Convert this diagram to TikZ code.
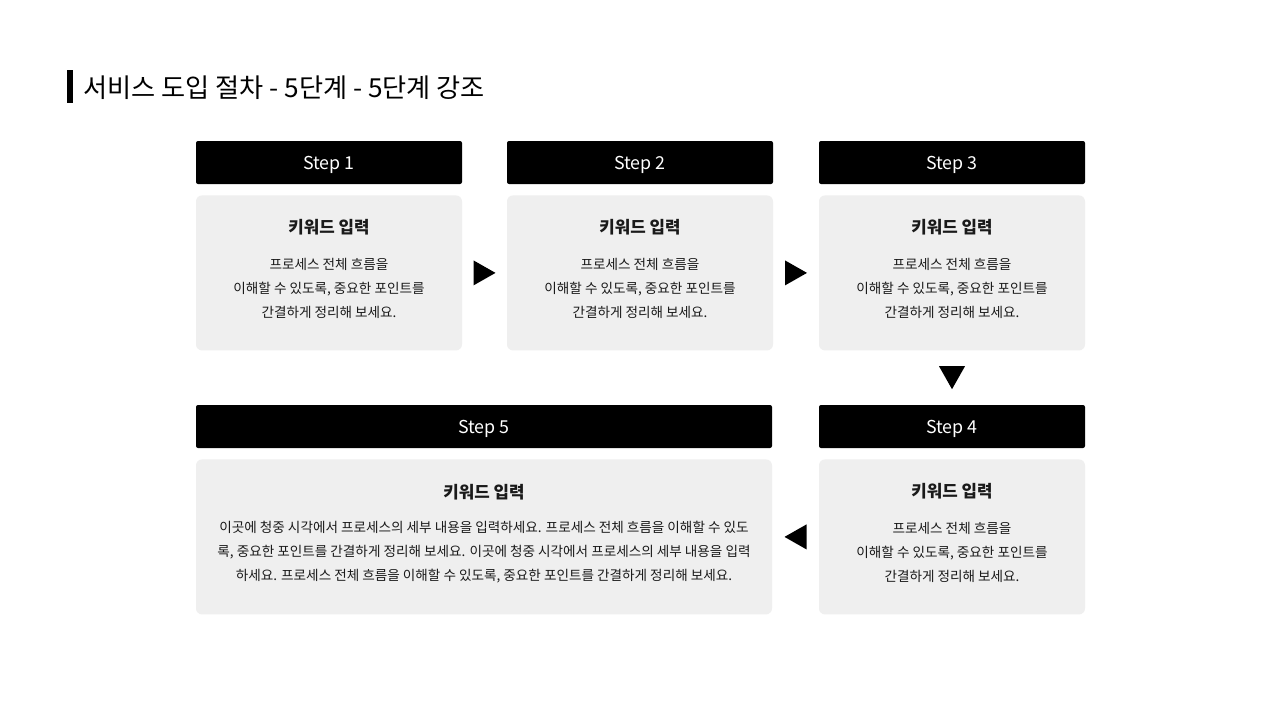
\documentclass[tikz,border=0pt]{standalone}
\usepackage{fontspec}
\setmainfont{Noto Sans CJK KR}
\usetikzlibrary{positioning,calc}
\definecolor{boxgray}{HTML}{EFEFEF}
\definecolor{inkgray}{HTML}{1A1A1A}

\begin{document}
\begin{tikzpicture}[x=1pt,y=-1pt,
    stephead/.style={fill=black,text=white,rounded corners=2pt,minimum height=43pt,inner sep=0pt,text height=13pt,text depth=0pt,font=\fontsize{17.8}{20}\selectfont},
    stepbody/.style={fill=boxgray,rounded corners=6pt,minimum height=155pt,inner sep=0pt},
    keyword/.style={text=inkgray,inner sep=0pt,font=\fontsize{16.8}{20}\selectfont\bfseries},
    desc/.style={text=inkgray,align=center,inner sep=0pt,font=\fontsize{13.6}{24}\selectfont}]
  \fill[white] (0,0) rectangle (1280,720);
  \useasboundingbox (0,0) rectangle (1280,720);

  % title
  \node[fill=black,minimum width=6pt,minimum height=33pt,inner sep=0pt] (bar) at (70,86.5) {};
  \node[anchor=west,inner sep=0pt,text=black,font=\fontsize{26.2}{30}\selectfont] (title) at (83,87.5) {서비스 도입 절차 - 5단계 - 5단계 강조};

  % row 1
  \node[stephead,minimum width=266pt] (h1) at (329,162.5) {Step 1};
  \node[stephead,minimum width=266pt] (h2) at (640,162.5) {Step 2};
  \node[stephead,minimum width=266pt] (h3) at (952,162.5) {Step 3};
  \node[stepbody,minimum width=266pt,below=11pt of h1] (b1) {};
  \node[stepbody,minimum width=266pt,below=11pt of h2] (b2) {};
  \node[stepbody,minimum width=266pt,below=11pt of h3] (b3) {};

  % row 2
  \node[stephead,minimum width=266pt] (h4) at (952,426.5) {Step 4};
  \node[stephead,minimum width=576pt] (h5) at (484,426.5) {Step 5};
  \node[stepbody,minimum width=266pt,below=11pt of h4] (b4) {};
  \node[stepbody,minimum width=576pt,below=11pt of h5] (b5) {};

  % texts
  \foreach \b in {b1,b2,b3,b4}{
    \node[keyword] (k\b) at ($(\b.north)+(0,32.5)$) {키워드 입력};
    \node[desc] (d\b) at ($(\b.north)+(0,93)$) {프로세스 전체 흐름을\\이해할 수 있도록, 중요한 포인트를\\간결하게 정리해 보세요.};
  }
  \node[keyword] (kb5) at ($(b5.north)+(0,33.5)$) {키워드 입력};
  \node[desc] (db5) at ($(b5.north)+(0,93)$) {이곳에 청중 시각에서 프로세스의 세부 내용을 입력하세요. 프로세스 전체 흐름을 이해할 수 있도\\록, 중요한 포인트를 간결하게 정리해 보세요. 이곳에 청중 시각에서 프로세스의 세부 내용을 입력\\하세요. 프로세스 전체 흐름을 이해할 수 있도록, 중요한 포인트를 간결하게 정리해 보세요.};

  % arrows
  \coordinate (t12) at ($(b1.east)!0.5!(b2.west)$);
  \coordinate (t23) at ($(b2.east)!0.5!(b3.west)$);
  \coordinate (t34) at ($(b3.south)!0.5!(h4.north)$);
  \coordinate (t45) at ($(b5.east)!0.5!(b4.west)$);
  \fill ($(t12)+(-11,-12.5)$) -- ($(t12)+(11,0)$) -- ($(t12)+(-11,12.5)$) -- cycle;
  \fill ($(t23)+(-11,-12.5)$) -- ($(t23)+(11,0)$) -- ($(t23)+(-11,12.5)$) -- cycle;
  \fill ($(t34)+(-13,-11.5)$) -- ($(t34)+(13,-11.5)$) -- ($(t34)+(0,11.5)$) -- cycle;
  \fill ($(t45)+(11,-12.5)$) -- ($(t45)+(-11,0)$) -- ($(t45)+(11,12.5)$) -- cycle;
\end{tikzpicture}
\end{document}
